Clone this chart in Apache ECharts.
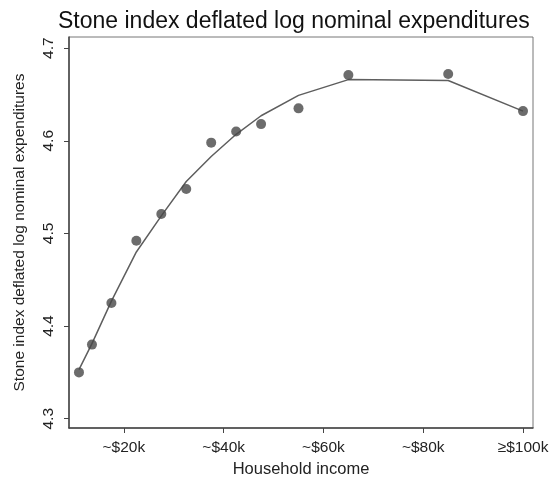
<!DOCTYPE html>
<html><head><meta charset="utf-8">
<script src="https://cdn.jsdelivr.net/npm/echarts@6/dist/echarts.min.js"></script>
<style>html,body{margin:0;padding:0;background:#fff}#c{width:556px;height:479px}</style>
</head><body><div id="c"></div>
<script>
const income = [11, 13.6, 17.5, 22.5, 27.5, 32.5, 37.5, 42.5, 47.5, 55, 65, 85, 100];
const observed = [4.350, 4.380, 4.425, 4.492, 4.521, 4.548, 4.598, 4.610, 4.618, 4.635, 4.671, 4.672, 4.632];
const fitted = [4.353, 4.381, 4.427, 4.480, 4.519, 4.556, 4.583, 4.607, 4.627, 4.649, 4.666, 4.665, 4.632];
const xTicks = [20, 40, 60, 80, 100];
const xTickLabels = ['~$20k', '~$40k', '~$60k', '~$80k', '≥$100k'];
const yTicks = [4.3, 4.4, 4.5, 4.6, 4.7];

const font = 'Liberation Sans, Arial, sans-serif';
const chart = echarts.init(document.getElementById('c'), null, {renderer: 'canvas'});
chart.setOption({
  animation: false,
  backgroundColor: '#fff',
  title: {
    text: 'Stone index deflated log nominal expenditures',
    left: 53, top: 5,
    textStyle: {fontFamily: font, fontSize: 23, fontWeight: 'normal', color: '#111'}
  },
  grid: {left: 69, right: 23, top: 37, bottom: 51, outerBoundsMode: 'none', containLabel: false,
         show: true, borderColor: '#777', borderWidth: 1},
  xAxis: {
    type: 'value', min: 9, max: 102,
    name: 'Household income', nameLocation: 'middle', nameGap: 33,
    nameTextStyle: {fontFamily: font, fontSize: 16.5, color: '#222'},
    axisLine: {show: true, onZero: false, lineStyle: {color: '#444', width: 1.5}},
    axisTick: {show: true, length: 5, customValues: xTicks, lineStyle: {color: '#444'}},
    axisLabel: {
      customValues: xTicks, margin: 12,
      fontFamily: font, fontSize: 15.5, color: '#222',
      formatter: v => xTickLabels[xTicks.indexOf(v)] || ''
    },
    splitLine: {show: false}
  },
  yAxis: {
    type: 'value', min: 4.29, max: 4.712,
    name: 'Stone index deflated log nominal expenditures', nameLocation: 'middle', nameGap: 41,
    nameTextStyle: {fontFamily: font, fontSize: 15.5, color: '#222'},
    axisLine: {show: true, onZero: false, lineStyle: {color: '#444', width: 1.5}},
    axisTick: {show: true, length: 5, customValues: yTicks, lineStyle: {color: '#444'}},
    axisLabel: {
      customValues: yTicks, rotate: 90, margin: 12,
      fontFamily: font, fontSize: 15.5, color: '#222',
      formatter: v => v.toFixed(1)
    },
    splitLine: {show: false}
  },
  series: [
    {
      type: 'line', data: income.map((x, i) => [x, fitted[i]]),
      showSymbol: false, smooth: false,
      lineStyle: {color: '#5e5e5e', width: 1.5}, z: 2
    },
    {
      type: 'scatter', data: income.map((x, i) => [x, observed[i]]),
      symbolSize: 10, itemStyle: {color: '#474747'}, z: 3
    }
  ]
});
</script></body></html>
